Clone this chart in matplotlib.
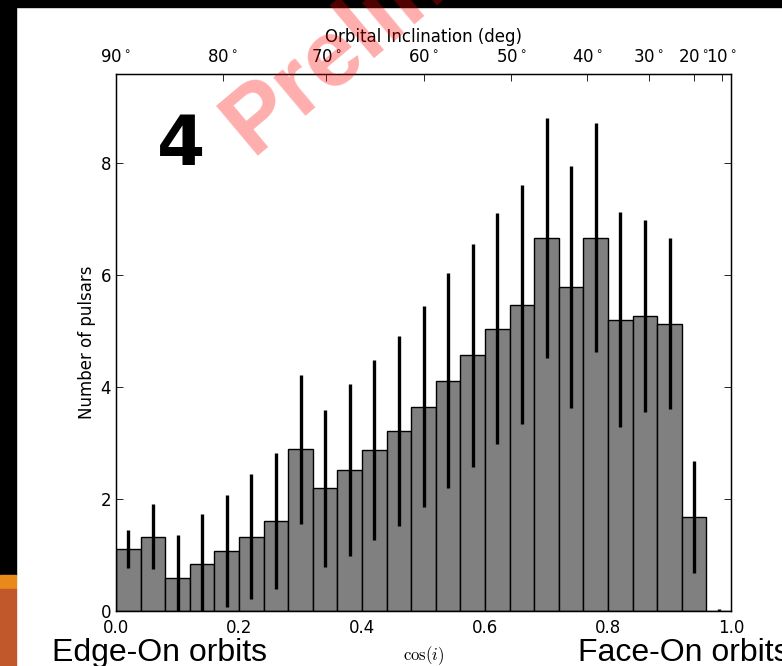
import numpy as np
import matplotlib
matplotlib.use("Agg")
from matplotlib import pyplot as plt
from matplotlib.patches import Rectangle

# histogram of cos(i), 25 bins of width 0.04
bin_centers = [0.02, 0.06, 0.10, 0.14, 0.18, 0.22, 0.26, 0.30, 0.34, 0.38,
               0.42, 0.46, 0.50, 0.54, 0.58, 0.62, 0.66, 0.70, 0.74, 0.78,
               0.82, 0.86, 0.90, 0.94, 0.98]
counts = [1.11, 1.33, 0.59, 0.84, 1.08, 1.33, 1.61, 2.89, 2.19, 2.52,
          2.87, 3.21, 3.65, 4.11, 4.57, 5.04, 5.47, 6.66, 5.79, 6.67,
          5.20, 5.27, 5.13, 1.68, 0.0]
errors = [0.34, 0.58, 0.76, 0.89, 1.00, 1.11, 1.21, 1.33, 1.40, 1.53,
          1.61, 1.70, 1.80, 1.92, 1.99, 2.06, 2.13, 2.14, 2.16, 2.04,
          1.92, 1.71, 1.53, 1.00, 0.03]

x_ticks = [0.0, 0.2, 0.4, 0.6, 0.8, 1.0]
y_ticks = [0, 2, 4, 6, 8]
incl_deg = [90, 80, 70, 60, 50, 40, 30, 20, 10]

W, H = 782, 666
fig = plt.figure(figsize=(W / 100, H / 100), dpi=100)

# slide decoration: black frame and orange/brown strip on the left
fig.add_artist(Rectangle((0, 1 - 7 / H), 1, 7 / H, transform=fig.transFigure,
                         color="black", zorder=1))
fig.add_artist(Rectangle((0, 1 - 575 / H), 16 / W, 575 / H, transform=fig.transFigure,
                         color="black", zorder=1))
fig.add_artist(Rectangle((0, 1 - 589 / H), 16 / W, 14 / H, transform=fig.transFigure,
                         color="#E8891A", zorder=1))
fig.add_artist(Rectangle((0, 0), 16 / W, 1 - 589 / H, transform=fig.transFigure,
                         color="#C0582B", zorder=1))

ax = fig.add_axes([116 / W, 1 - 611 / H, (731 - 116) / W, (611 - 74) / H])
ax.bar(bin_centers, counts, width=0.04, color="gray", edgecolor="black",
       linewidth=1.0, zorder=2)
ax.errorbar(bin_centers, counts, yerr=errors, fmt="none", ecolor="black",
            elinewidth=2.4, capsize=0, zorder=3)
ax.set_xlim(0, 1)
ax.set_ylim(0, 9.59)
ax.set_xticks(x_ticks)
ax.set_yticks(y_ticks)
ax.tick_params(direction="in", length=5, width=0.6, labelsize=12,
               top=False, right=True)
ax.tick_params(axis="x", pad=6)
for s in ax.spines.values():
    s.set_linewidth(1.0)
ax.set_ylabel("Number of pulsars", fontsize=12, labelpad=3)
ax.set_xlabel(r"$\cos(i)$", fontsize=12, labelpad=5, math_fontfamily="cm")

# top axis: inclination in degrees
ax2 = ax.twiny()
ax2.set_xlim(0, 1)
ax2.set_xticks(np.cos(np.radians(incl_deg)))
ax2.set_xticklabels([str(d) + r"$^\circ$" for d in incl_deg])
ax2.tick_params(direction="in", length=5, width=0.6, labelsize=12, pad=6)
ax2.set_xlabel("Orbital Inclination (deg)", fontsize=12, labelpad=4)

fig.text(181 / W, 1 - 165 / H, "4", fontsize=50, fontweight="bold",
         ha="center", va="baseline")

fig.text(52 / W, 1 - 661 / H, "Edge-On orbits", fontsize=23,
         family="Liberation Sans", ha="left", va="baseline")
fig.text(578 / W, 1 - 661 / H, "Face-On orbits", fontsize=23,
         family="Liberation Sans", ha="left", va="baseline")

# watermark
fig.text(252 / W, 1 - 156 / H, "Preliminary", rotation=40, rotation_mode="anchor",
         color="red", alpha=0.32, fontsize=68, fontweight="bold",
         family="Liberation Sans", ha="left", va="baseline", zorder=20)

fig.savefig("out.png", dpi=100)
